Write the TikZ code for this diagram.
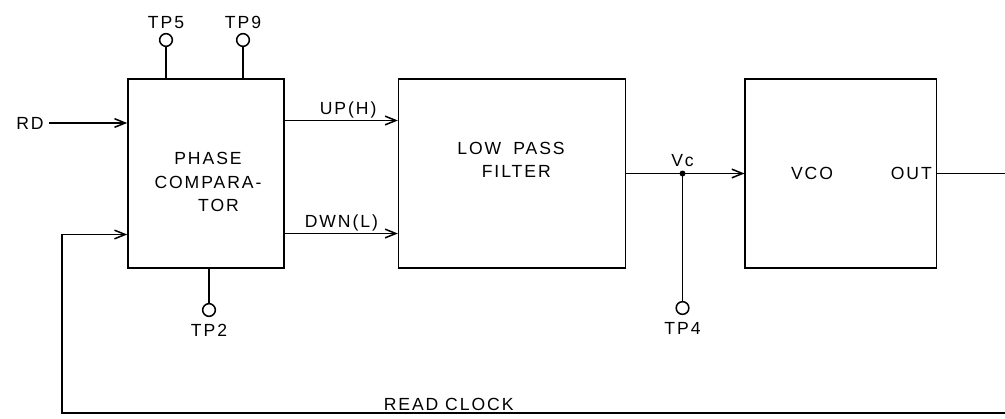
\documentclass[tikz,border=0pt]{standalone}
\usepackage{fontspec}
\newfontfamily\lettering{Liberation Sans}[LetterSpace=11]
\usetikzlibrary{arrows.meta, positioning, calc}

\begin{document}
\begin{tikzpicture}[
    x=0.03cm, y=-0.03cm,
    block/.style={rectangle, draw, line width=1.4pt, minimum height=5.67cm},
    lbl/.style={font=\lettering\fontsize{15}{20}\selectfont, inner sep=1.5pt},
    tp/.style={circle, draw, line width=1.3pt, fill=white, minimum size=0.38cm, inner sep=0pt},
    wire/.style={draw, line width=1.4pt},
    sig/.style={draw, line width=1.4pt, -{Straight Barb[length=3.2mm, width=2.6mm, line width=1.3pt]}}
]
    \useasboundingbox (0,0) rectangle (1005,419);

    % Blocks
    \node [block, minimum width=4.68cm] (pc) at (206,173.5) {};
    \node [block, minimum width=6.81cm, right=3.39cm of pc] (lpf) {};
    \node [block, minimum width=5.73cm, right=3.54cm of lpf] (vco) {};

    \node [lbl, align=center] at (208,182) {PHASE\\COMPARA-\\\hspace{1.2em}TOR};
    \node [lbl, align=center] at (511,160) {LOW\hspace{0.3em} PASS\\\hspace{0.6em}FILTER};
    \node [lbl] at (812,173.5) {VCO};
    \node [lbl, left=0.1cm] (out) at (vco.east) {OUT};

    % Test points
    \node [tp] (tp5) at (166,40) {};
    \node [tp] (tp9) at (243,40) {};
    \node [tp] (tp2) at (209,310) {};
    \node [lbl, above=0.08cm of tp5] {TP5};
    \node [lbl, above=0.08cm of tp9] {TP9};
    \node [lbl, below=0.15cm of tp2] {TP2};
    \path [wire] (tp5) -- (tp5 |- pc.north);
    \path [wire] (tp9) -- (tp9 |- pc.north);
    \path [wire] (tp2) -- (tp2 |- pc.south);

    % Inputs
    \node [lbl] (rd) at (30,123) {RD};
    \path [sig] ([xshift=0.1cm]rd.east) -- (rd -| pc.west);

    % Comparator to filter
    \coordinate (up) at (pc.east |- 0,120.5);
    \coordinate (dwn) at (pc.east |- 0,233.5);
    \path [sig] (up) -- node [lbl, above, pos=0.56] {UP(H)} (up -| lpf.west);
    \path [sig] (dwn) -- node [lbl, above, pos=0.5] {DWN(L)} (dwn -| lpf.west);

    % Control voltage
    \coordinate (vcj) at ($(lpf.east)!0.475!(vco.west)$);
    \path [sig] (lpf) -- (vco);
    \fill (vcj) circle (0.09cm);
    \node [lbl, above=0.15cm of vcj] {Vc};
    \node [tp] (tp4) at (vcj |- 0,308) {};
    \node [lbl, below=0.15cm of tp4] {TP4};
    \path [wire] (vcj) -- (tp4);

    % Output and read clock loop
    \coordinate (outend) at (1005,173.5);
    \coordinate (rcend) at (1005,413);
    \coordinate (rccorner) at (62,413);
    \path [wire] (vco.east) -- (outend);
    \path [sig] (rcend) -- node [lbl, above, pos=0.59] {READ CLOCK} (rccorner) |- (pc.west |- 0,234.5);

\end{tikzpicture}
\end{document}
